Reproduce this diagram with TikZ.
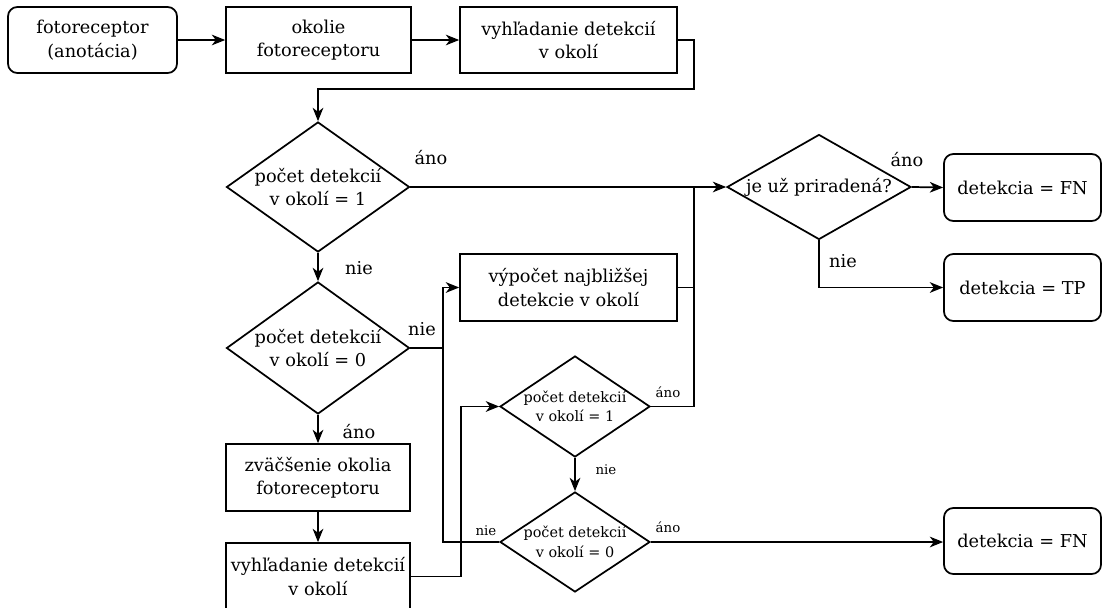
\documentclass[tikz,border=0pt]{standalone}
\usepackage{fontspec}
\setmainfont{DejaVu Serif}
\usetikzlibrary{shapes.geometric,arrows.meta}
\newcommand{\mainf}{\fontsize{13.3}{17.5}\selectfont}
\newcommand{\smallf}{\fontsize{10.8}{14.5}\selectfont}
\newcommand{\lblsf}{\fontsize{10}{12}\selectfont}
\tikzset{
  sz/.style 2 args={minimum width=#1*0.75pt, minimum height=#2*0.75pt},
  box/.style={draw, rectangle, inner sep=0pt, align=center, font=\mainf},
  rbox/.style={box, rounded corners=7pt},
  dia/.style={draw, diamond, inner sep=0pt},
  dtext/.style={inner sep=0pt, align=center, font=\mainf},
  dtexts/.style={inner sep=0pt, align=center, font=\smallf},
  lbl/.style={inner sep=0pt, font=\mainf},
  lbls/.style={inner sep=0pt, font=\lblsf},
  arr/.style={-{Stealth[length=10pt,width=8pt,inset=3pt]}},
}
\begin{document}
\begin{tikzpicture}[x=0.75pt,y=-0.75pt, line join=miter, line width=1.3pt]
\useasboundingbox (0,0) rectangle (1103,607);
% nodes
\node[rbox, sz={169}{66}] (b1) at (92.5,40) {fotoreceptor\\(anotácia)};
\node[box, sz={185}{66}] (b2) at (318.5,40) {okolie\\fotoreceptoru};
\node[box, sz={217}{66}] (b3) at (568.5,40) {vyhľadanie detekcií\\v okolí};
\node[dia, sz={183}{130}] (d1) at (318,187) {};
\node[dtext] (d1t) at (d1) {počet detekcií\\v okolí = 1};
\node[dia, sz={183}{132}] (d2) at (318,348) {};
\node[dtext] (d2t) at (d2) {počet detekcií\\v okolí = 0};
\node[box, sz={184}{67}] (zv) at (318,477.5) {zväčšenie okolia\\fotoreceptoru};
\node[box, sz={184}{67}] (vy2) at (318,576.5) {vyhľadanie detekcií\\v okolí};
\node[box, sz={217}{67}] (vp) at (568.5,287.5) {výpočet najbližšej\\detekcie v okolí};
\node[dia, sz={150}{101}] (sd1) at (575,406.5) {};
\node[dtexts] (sd1t) at (sd1) {počet detekcií\\v okolí = 1};
\node[dia, sz={150}{100}] (sd2) at (575,542) {};
\node[dtexts] (sd2t) at (sd2) {počet detekcií\\v okolí = 0};
\node[dia, sz={184}{105}] (dj) at (819,187) {};
\node[dtext] (djt) at (dj) {je už priradená?};
\node[rbox, sz={157}{67}] (fn1) at (1022.5,187.5) {detekcia = FN};
\node[rbox, sz={157}{67}] (tp) at (1022.5,287.5) {detekcia = TP};
\node[rbox, sz={157}{66}] (fn2) at (1022.5,541) {detekcia = FN};
% helper coordinates
\coordinate (t1) at (694,89);
\coordinate (m) at (694,187);
\coordinate (jx) at (444,0);
% connectors
\draw[arr] (b1.east) -- (b2.west);
\draw[arr] (b2.east) -- (b3.west);
\draw[arr] (b3.east) -| (t1) -| (d1.north);
\draw[arr] (d1.east) -- (dj.west);
\draw[arr] (d1.south) -- (d2.north);
\draw[arr] (d2.south) -- (zv.north);
\draw[arr] (zv.south) -- (vy2.north);
\draw[arr] (vy2.east) -- ++(50,0) |- (sd1.west);
\draw (d2.east) -- (d2.east -| jx);
\draw[arr] (sd2.west) -- ++(-56,0) |- (vp.west);
\draw (sd1.east) -| (m);
\draw (vp.east) -- (vp.east -| m);
\draw[arr] (sd1.south) -- (sd2.north);
\draw[arr] (sd2.east) -- (sd2.east -| fn2.west);
\draw[arr] (dj.east) -- (fn1.west);
\draw[arr] (dj.south) |- (tp.west);
% labels
\node[lbl] (l1) at (431,158) {áno};
\node[lbl] (l2) at (359,268) {nie};
\node[lbl] (l3) at (422,329) {nie};
\node[lbl] (l4) at (359,432) {áno};
\node[lbls] (l5) at (668,392) {áno};
\node[lbls] (l6) at (606,470) {nie};
\node[lbls] (l7) at (486,531) {nie};
\node[lbls] (l8) at (668,527) {áno};
\node[lbl] (l9) at (907,160) {áno};
\node[lbl] (l10) at (843,261) {nie};
\end{tikzpicture}
\end{document}
